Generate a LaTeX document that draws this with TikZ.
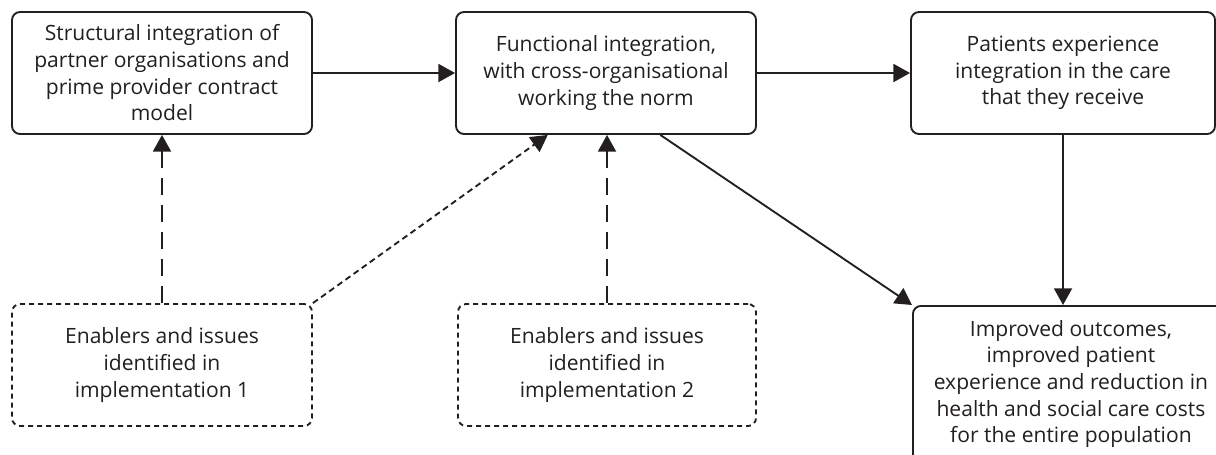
\documentclass[tikz,border=0pt]{standalone}
\usepackage{fontspec}
\setmainfont{Open Sans}
\usetikzlibrary{arrows.meta,calc}
\definecolor{ink}{HTML}{231F20}
\tikzset{
  stagebox/.style={draw=ink, line width=1.4pt, rounded corners=6pt, text=ink,
    align=center, inner sep=0pt, font=\fontsize{15.8}{20}\selectfont},
  notebox/.style={stagebox, dash pattern=on 3.75pt off 3pt},
  flow/.style={draw=ink, line width=1.4pt, -{Triangle[length=12.5pt,width=13.5pt]}},
  longdash/.style={flow, dash pattern=on 12.75pt off 7.5pt},
  shortdash/.style={flow, dash pattern=on 4.5pt off 3pt}
}
\begin{document}
\begin{tikzpicture}[x=0.75pt,y=-0.75pt]
\useasboundingbox (0,0) rectangle (1216,454);
\clip (0,0) rectangle (1216,454);
\fill[white] (0,0) rectangle (1216,454);

% stage boxes along the top row
\node[stagebox, minimum width=225pt, minimum height=91.5pt] (s1) at (162,73)
  {Structural integration of\\partner organisations and\\prime provider contract\\model};
\node[stagebox, minimum width=225pt, minimum height=91.5pt] (s2) at (606,73)
  {Functional integration,\\with cross-organisational\\working the norm};
\node[stagebox, minimum width=228pt, minimum height=91.5pt] (s3) at (1063,73)
  {Patients experience\\integration in the care\\that they receive};

% enabler boxes
\node[notebox, minimum width=225pt, minimum height=91.5pt] (e1) at (162,365)
  {Enablers and issues\\identified in\\implementation 1};
\node[notebox, minimum width=223.5pt, minimum height=91.5pt] (e2) at (607,365)
  {Enablers and issues\\identified in\\implementation 2};

% outcome box (runs past the lower and right edges)
\node[stagebox, anchor=north west, minimum width=237pt, minimum height=117pt] (out) at (912,305)
  {Improved outcomes,\\improved patient\\experience and reduction in\\health and social care costs\\for the entire population};

% connectors
\coordinate (s2diag) at ($(s2.south west)!0.68!(s2.south east)$);
\coordinate (s2in) at ($(s2.south west)!0.307!(s2.south east)$);
\draw[flow] (s1.east) -- (s2.west);
\draw[flow] (s2.east) -- (s3.west);
\draw[flow] (s3.south) -- (s3.south |- out.north);
\draw[flow] (s2diag) -- (out.north west);
\draw[longdash] (e1.north) -- (s1.south);
\draw[shortdash] (e1.north east) -- (s2in);
\draw[longdash] (e2.north) -- (e2.north |- s2.south);
\end{tikzpicture}
\end{document}
